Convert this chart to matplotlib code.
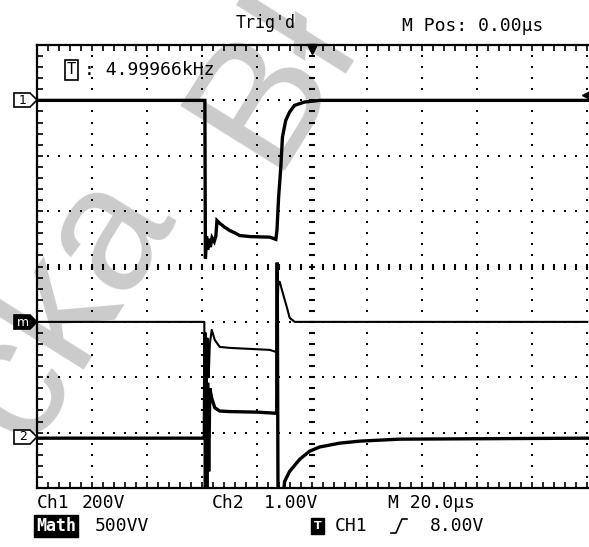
import numpy as np
import matplotlib
matplotlib.use('Agg')
import matplotlib.pyplot as plt
from matplotlib.patches import Polygon
from matplotlib.lines import Line2D

# Scope settings
time_per_div = 20.0      # us/div
ch1_per_div = 200.0      # V/div
ch2_per_div = 1.0        # V/div
math_per_div = 500.0     # VV/div
ch1_pos = 3.0            # marker position, div
ch2_pos = -3.1
math_pos = -1.0
trig_level = 8.0         # V on CH1

# Ch1 trace (time us, volts)
ch1_t = [-100, -39.0, -38.8, -38.4, -38.0, -37.4, -37.0, -36.4, -35.6, -35.0, -34.6, -33.6,
         -31.8, -30.0, -28.2, -26.4, -22.6, -15.4, -13.2, -12.8, -12.2, -11.4, -10.8, -9.6,
         -8.2, -6.4, -2.8, 2.8, 100]
ch1_v = [0, 0, -571, -490, -540, -500, -530, -496, -510, -490, -434, -444,
         -458, -470, -478, -488, -492, -494, -502, -470, -350, -242, -132, -72,
         -42, -18, -6, 0, 0]

# Ch2 trace (time us, volts)
ch2_t = [-100, -39.2, -39.0, -38.8, -38.6, -38.3, -38.0, -37.6, -37.2, -36.5, -35.4, -33.6,
         -29.9, -20.0, -13.2, -12.9, -12.7, -12.4, -11.1, -10.0, -8.2, -4.5, -0.9, 2.7,
         10.0, 17.2, 31.8, 100]
ch2_v = [0, 0, 1.9, -1.2, 1.4, -1.2, 1.0, -0.6, 0.9, 0.72, 0.55, 0.49,
         0.48, 0.47, 0.45, 0.45, 3.17, -1.3, -1.3, -0.78, -0.60, -0.38, -0.235, -0.16,
         -0.09, -0.054, -0.018, 0]

# Math = Ch1 * Ch2 (time us, VV)
math_t = [-100, -39.2, -39.0, -38.7, -38.4, -38.0, -37.6, -37.2, -36.5, -35.4, -33.6, -29.9,
          -22.6, -15.4, -13.2, -12.9, -12.3, -11.8, -10.7, -9.25, -8.17, -6.35, 100]
math_v = [0, 0, -900, -100, -700, -150, -500, -200, -72, -163, -226, -235,
          -244, -253, -271, -271, 362, 362, 262, 136, 36, 0, 0]

W, H = 589, 547
fig = plt.figure(figsize=(W / 100, H / 100), dpi=100)
fig.patch.set_facecolor('white')

def fx(px):
    return px / W

def fy(py):
    return 1 - py / H

ax = fig.add_axes([fx(37), fy(488), fx(589) - fx(37), fy(45) - fy(488)])
ax.set_xlim(-5, 5.03)
ax.set_ylim(-4, 4)
ax.patch.set_alpha(0)

# watermark (two pieces, behind the graticule)
wm = dict(transform=fig.transFigure, rotation=58, rotation_mode='anchor', fontsize=128,
          color='#cbcbcb', ha='center', va='center', family='Liberation Sans',
          zorder=0.5, clip_on=False)
ax.text(fx(62), fy(306), 'cka', **wm)
ax.text(fx(273), fy(79), 'Bł', **wm)

# dotted graticule
steps = np.arange(-5, 5.01, 0.2)
vsteps = np.arange(-4, 4.01, 0.2)
for gx in [-4, -3, -2, -1, 1, 2, 3, 4, 5]:
    ax.plot(np.full(len(vsteps), gx), vsteps, ls='none', marker='s', ms=1.5,
            color='black', mew=0, zorder=1, clip_on=False)
for gy in [-3, -2, -1, 1, 2, 3]:
    ax.plot(steps, np.full(len(steps), gy), ls='none', marker='s', ms=1.5,
            color='black', mew=0, zorder=1)
# center cross with ticks
ax.plot(steps, np.zeros(len(steps)), ls='none', marker='|', ms=5, mew=1.5,
        color='black', zorder=1)
ax.plot(np.zeros(len(vsteps)), vsteps, ls='none', marker='_', ms=5, mew=1.5,
        color='black', zorder=1)

# traces
t1 = np.array(ch1_t) / time_per_div
ax.plot(t1, ch1_pos + np.array(ch1_v) / ch1_per_div, color='black', lw=2.4, zorder=3,
        solid_joinstyle='miter')
t2 = np.array(ch2_t) / time_per_div
ax.plot(t2, ch2_pos + np.array(ch2_v) / ch2_per_div, color='black', lw=2.4, zorder=3,
        solid_joinstyle='miter')
tm = np.array(math_t) / time_per_div
ax.plot(tm, math_pos + np.array(math_v) / math_per_div, color='black', lw=1.5, zorder=3)

# trigger markers
ax.plot([0], [3.93], marker='v', ms=7, color='black', clip_on=False, zorder=4)
ax.plot([4.97], [ch1_pos + trig_level / ch1_per_div + 0.05], marker='<', ms=6,
        color='black', clip_on=False, zorder=4)

# frame
ax.set_xticks(np.arange(-5, 5.01, 0.2))
ax.set_yticks(np.arange(-4, 4.01, 0.2))
ax.tick_params(direction='in', length=4, width=1.2, top=True, bottom=True,
               left=True, right=False, labelbottom=False, labelleft=False)
for s in ['top', 'bottom', 'left']:
    ax.spines[s].set_linewidth(1.6)
ax.spines['right'].set_visible(False)

# channel markers on the left
def chan_marker(py, label, filled):
    pts = [(14, py - 7), (30, py - 7), (37, py), (30, py + 7), (14, py + 7)]
    poly = Polygon([(fx(a), fy(b)) for a, b in pts], closed=True, transform=fig.transFigure,
                   facecolor='black' if filled else 'white', edgecolor='black', lw=1.2)
    fig.add_artist(poly)
    fig.text(fx(23), fy(py), label, ha='center', va='center', fontsize=9,
             color='white' if filled else 'black', family='DejaVu Sans')

chan_marker(100, '1', False)
chan_marker(322, 'm', True)
chan_marker(437, '2', False)

font = dict(family='DejaVu Sans Mono', fontsize=13, color='black')

# top texts
fig.text(fx(236), fy(23), "Trig'd", ha='left', va='center', family='DejaVu Sans Mono',
         fontsize=12, color='black')
fig.text(fx(402), fy(26), 'M Pos: 0.00µs', ha='left', va='center', **font)
fig.text(fx(67), fy(70), 'T', ha='left', va='center', family='DejaVu Sans Mono', fontsize=11,
         bbox=dict(facecolor='white', edgecolor='black', pad=1.5, lw=1.2))
fig.text(fx(84), fy(70), ': 4.99966kHz', ha='left', va='center', **font)

# bottom texts
fig.text(fx(37), fy(503), 'Ch1', ha='left', va='center', **font)
fig.text(fx(82), fy(503), '200V', ha='left', va='center', **font)
fig.text(fx(212), fy(503), 'Ch2', ha='left', va='center', **font)
fig.text(fx(264), fy(503), '1.00V', ha='left', va='center', **font)
fig.text(fx(388), fy(503), 'M 20.0µs', ha='left', va='center', **font)

fig.text(fx(36), fy(526), 'Math', ha='left', va='center', family='DejaVu Sans Mono',
         fontsize=12, color='white', fontweight='bold',
         bbox=dict(facecolor='black', edgecolor='black', pad=1.2))
fig.text(fx(95), fy(526), '500VV', ha='left', va='center', **font)
fig.text(fx(314), fy(526), 'T', ha='left', va='center', family='DejaVu Sans',
         fontsize=8, color='white', fontweight='bold',
         bbox=dict(facecolor='black', edgecolor='black', pad=1.8))
fig.text(fx(335), fy(526), 'CH1', ha='left', va='center', **font)
edge = Line2D([fx(391), fx(396), fx(402), fx(407)], [fy(533), fy(533), fy(519), fy(519)],
              transform=fig.transFigure, color='black', lw=1.2)
fig.add_artist(edge)
fig.text(fx(430), fy(526), '8.00V', ha='left', va='center', **font)

fig.savefig('out.png', dpi=100, facecolor='white')
